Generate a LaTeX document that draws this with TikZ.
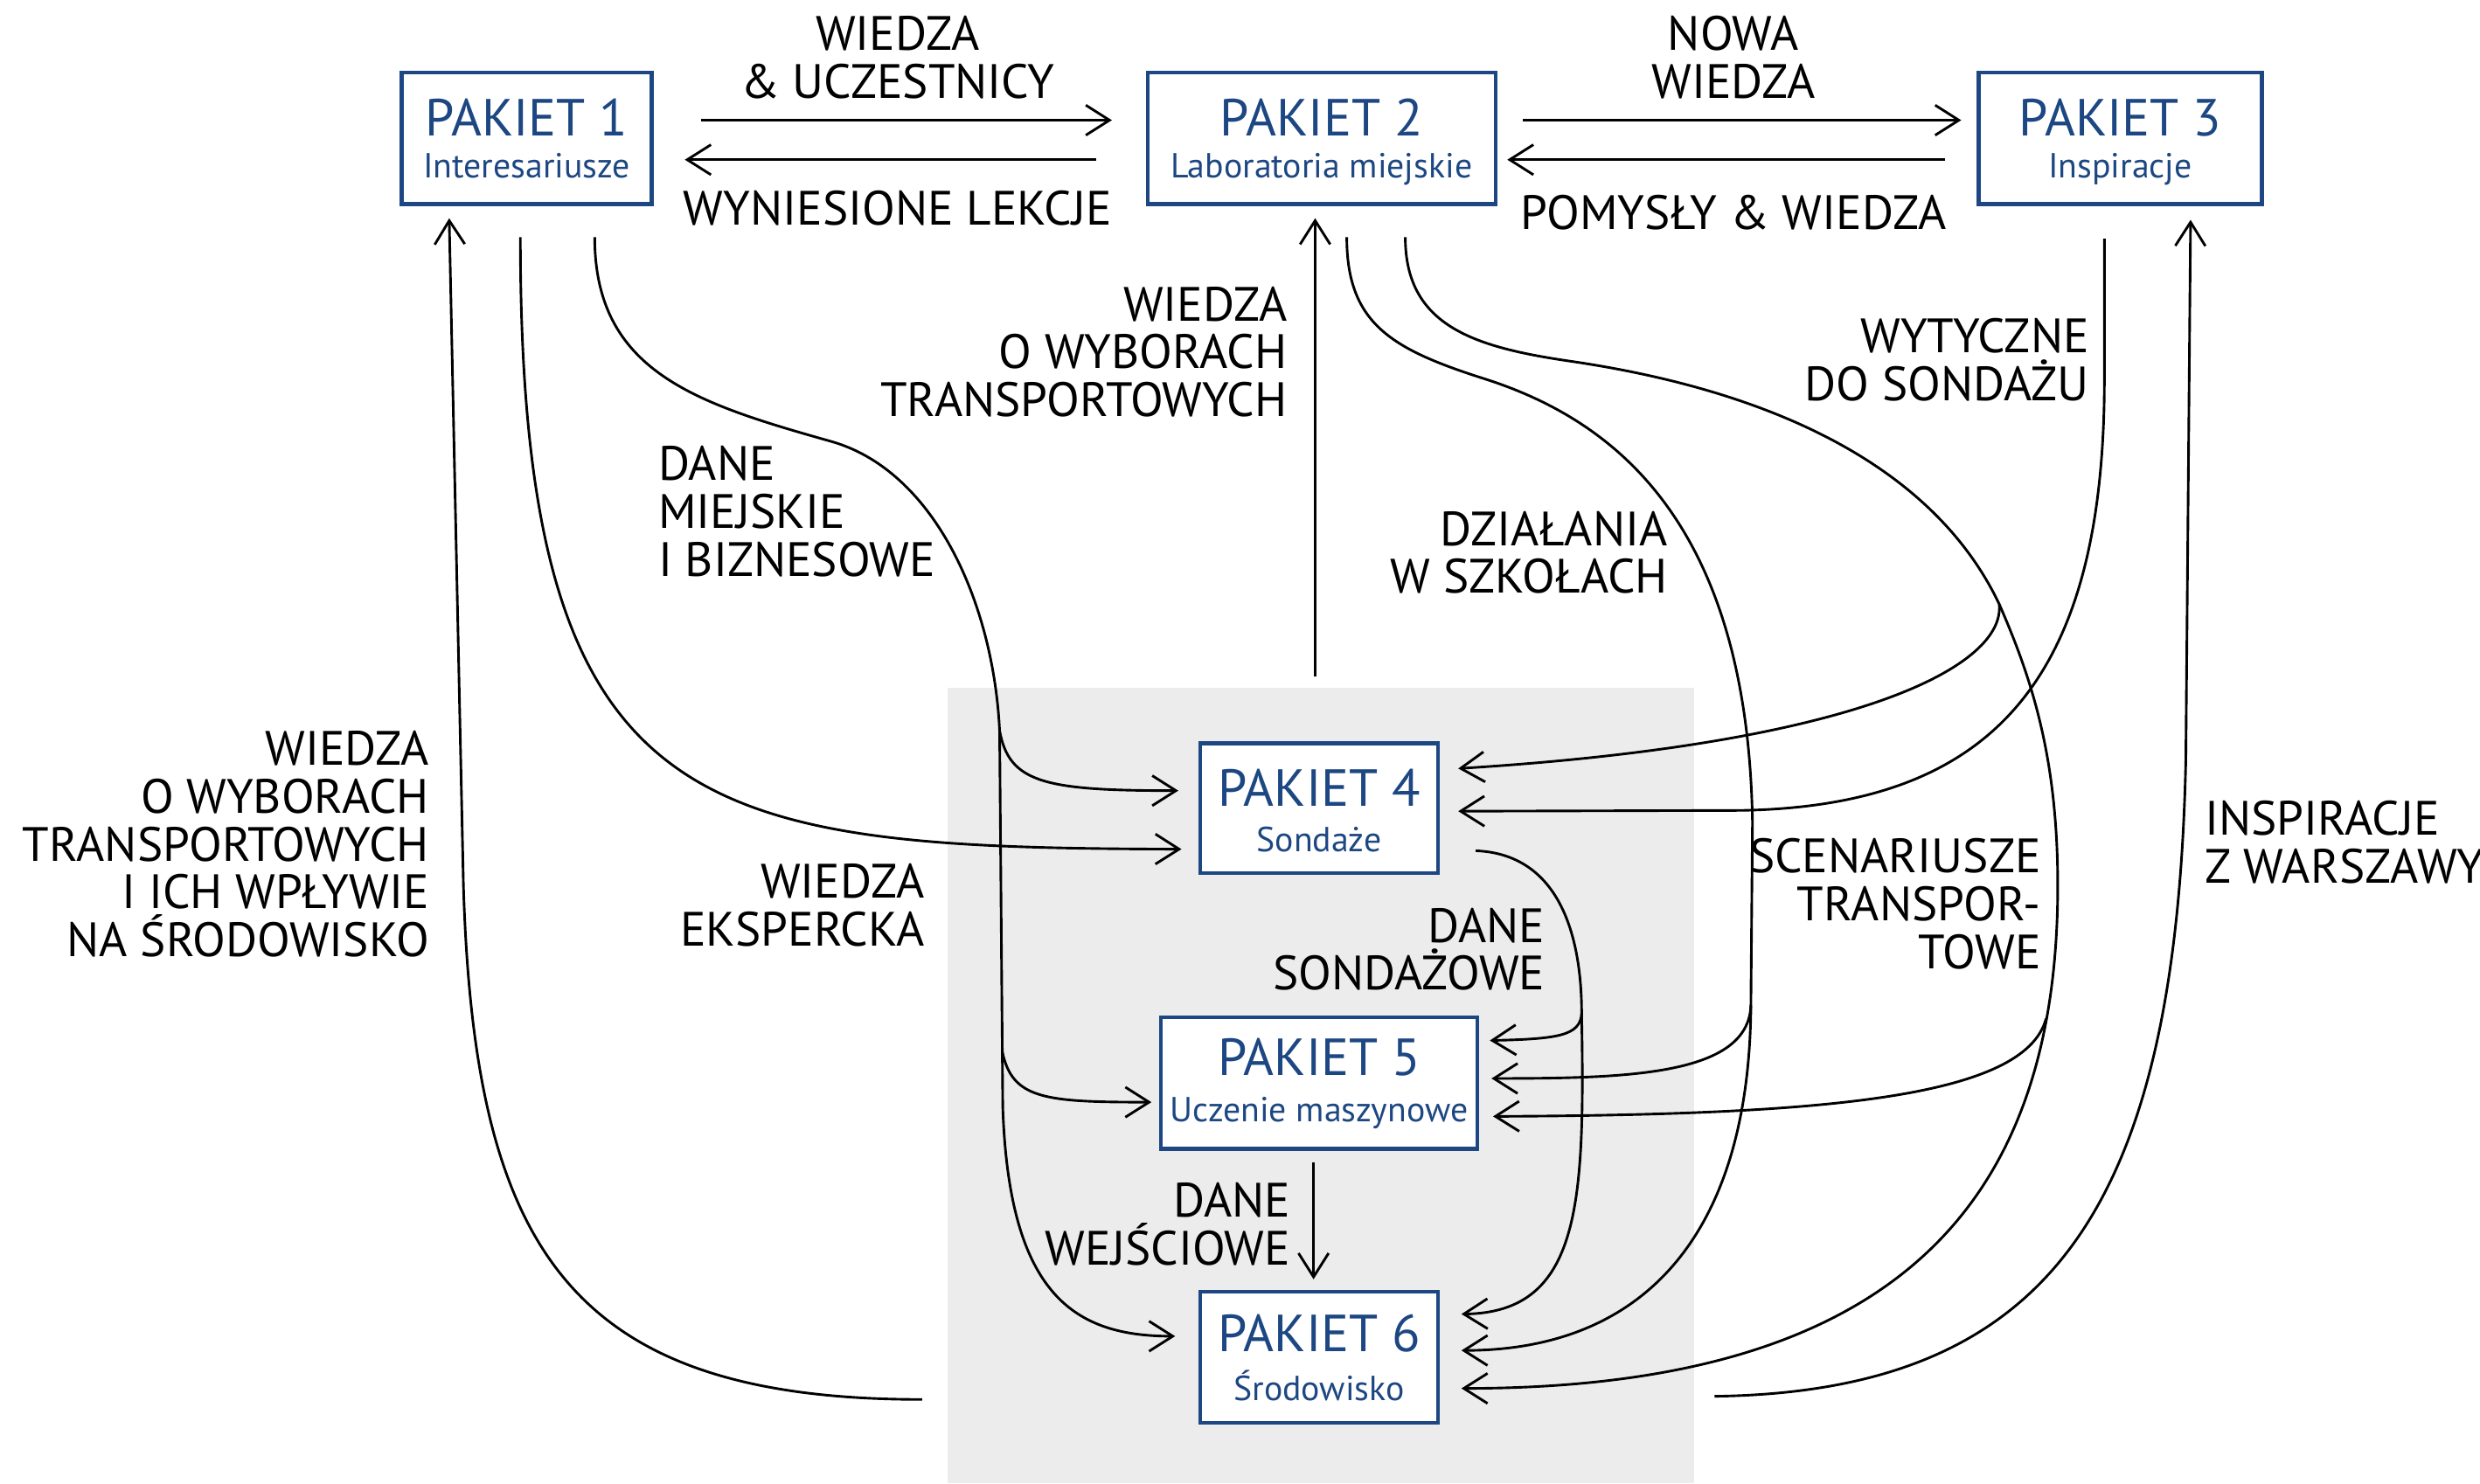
\documentclass[tikz,border=0pt]{standalone}
\usepackage{fontspec}
\setmainfont{PT Sans}
\usetikzlibrary{arrows.meta,calc}
\definecolor{boxblue}{RGB}{29,71,130}
\definecolor{groupgray}{RGB}{236,236,236}
\begin{document}
\begin{tikzpicture}[x=1pt,y=-1pt,
  lbl/.style={font=\fontsize{30.5}{30.3}\selectfont, inner sep=0pt, text=black},
  box/.style={draw=boxblue, line width=2.4pt, fill=white, inner sep=0pt},
  ttl/.style={font=\fontsize{33}{33}\selectfont, text=boxblue, inner sep=0pt},
  subt/.style={font=\fontsize{22}{22}\selectfont, text=boxblue, inner sep=0pt},
  conn/.style={line width=1.6pt, -{Straight Barb[length=15pt,width=19pt]}}
]
\useasboundingbox (0,0) rectangle (1568,938);
\fill[groupgray] (599,435) rectangle (1071,938);

% boxes
\node[box, minimum width=158pt, minimum height=83pt] (P1) at (333,87.5) {};
\node[ttl, anchor=base] (P1t) at (333,85.7) {PAKIET 1};
\node[subt, anchor=base] (P1s) at (333,112.4) {Interesariusze};
\node[box, minimum width=220pt, minimum height=83pt] (P2) at (835.5,87.5) {};
\node[ttl, anchor=base] (P2t) at (835.5,85.7) {PAKIET 2};
\node[subt, anchor=base] (P2s) at (835.5,112.4) {Laboratoria miejskie};
\node[box, minimum width=179pt, minimum height=83pt] (P3) at (1340.5,87.5) {};
\node[ttl, anchor=base] (P3t) at (1340.5,85.7) {PAKIET 3};
\node[subt, anchor=base] (P3s) at (1340.5,112.4) {Inspiracje};
\node[box, minimum width=150pt, minimum height=82pt] (P4) at (834,511) {};
\node[ttl, anchor=base] (P4t) at (834,510) {PAKIET 4};
\node[subt, anchor=base] (P4s) at (834,538.5) {Sondaże};
\node[box, minimum width=200pt, minimum height=83pt] (P5) at (834,685) {};
\node[ttl, anchor=base] (P5t) at (834,680) {PAKIET 5};
\node[subt, anchor=base] (P5s) at (834,709.5) {Uczenie maszynowe};
\node[box, minimum width=150pt, minimum height=83pt] (P6) at (834,858.4) {};
\node[ttl, anchor=base] (P6t) at (834,854.5) {PAKIET 6};
\node[subt, anchor=base] (P6s) at (834,885.5) {Środowisko};

% labels
\node[lbl, anchor=north, align=center] (lA1) at (567.5,10) {WIEDZA\\\& UCZESTNICY};
\node[lbl, anchor=north] (lA2) at (567.5,120.6) {WYNIESIONE LEKCJE};
\node[lbl, anchor=north, align=center] (lA3) at (1096,10) {NOWA\\WIEDZA};
\node[lbl, anchor=north] (lA4) at (1096,123) {POMYSŁY \& WIEDZA};
\node[lbl, anchor=north east, align=right] (lP2) at (814,181) {WIEDZA\\O WYBORACH\\TRANSPORTOWYCH};
\node[lbl, anchor=north west, align=left] (lDM) at (416,282) {DANE\\MIEJSKIE\\I BIZNESOWE};
\node[lbl, anchor=north east, align=right] (lDZ) at (1054.6,323) {DZIAŁANIA\\W SZKOŁACH};
\node[lbl, anchor=north east, align=right] (lWY) at (1321,201) {WYTYCZNE\\DO SONDAŻU};
\node[lbl, anchor=north east, align=right] (lB1) at (271.5,462) {WIEDZA\\O WYBORACH\\TRANSPORTOWYCH\\I ICH WPŁYWIE\\NA ŚRODOWISKO};
\node[lbl, anchor=north east, align=right] (lWE) at (584.7,546) {WIEDZA\\EKSPERCKA};
\node[lbl, anchor=north east, align=right] (lSC) at (1290.6,530) {SCENARIUSZE\\TRANSPOR-\\TOWE};
\node[lbl, anchor=north west, align=left] (lIN) at (1393.7,506) {INSPIRACJE\\Z WARSZAWY};
\node[lbl, anchor=north east, align=right] (lDS) at (977,574) {DANE\\SONDAŻOWE};
\node[lbl, anchor=north east, align=right] (lDW) at (816,748) {DANE\\WEJŚCIOWE};

% connector end points
\coordinate (a1s) at (443,76);   \coordinate (a1e) at (703,76);
\coordinate (a2s) at (693,101);  \coordinate (a2e) at (433,101);
\coordinate (a3s) at (963,76);   \coordinate (a3e) at (1240,76);
\coordinate (a4s) at (1230,101); \coordinate (a4e) at (953,101);
\coordinate (p1o1) at (329,150);
\coordinate (p1o2) at (376,150);
\coordinate (p1in) at (284,138);
\coordinate (p2in) at (831.5,138);
\coordinate (p2o1) at (851.5,150);
\coordinate (p2o2) at (888.5,150);
\coordinate (p3o) at (1330.5,151);
\coordinate (p3in) at (1385,139);
\coordinate (p4wa) at (745,500);
\coordinate (p4wb) at (747,537);
\coordinate (p4ea) at (922,486);
\coordinate (p4eb) at (922,513);
\coordinate (p4o) at (933,538);
\coordinate (p5w) at (728,697);
\coordinate (p5ea) at (942,658);
\coordinate (p5eb) at (943,682);
\coordinate (p5ec) at (944,706);
\coordinate (p5o) at (830.5,735);
\coordinate (p6in) at (830.5,809);
\coordinate (p6w) at (743,845);
\coordinate (p6ea) at (924,831);
\coordinate (p6eb) at (924,854);
\coordinate (p6ec) at (924,878);
\coordinate (gL) at (583,885);
\coordinate (gR) at (1084,883);
\coordinate (gT) at (831.5,428);
% branch / joint points
\coordinate (tk1) at (525,279);
\coordinate (tk2) at (632,462);
\coordinate (tk3) at (633.7,665);
\coordinate (c1a) at (940,240);
\coordinate (c1b) at (1108,520);
\coordinate (c1br) at (1107,636);
\coordinate (c2a) at (990,228);
\coordinate (c2br1) at (1264,382);
\coordinate (c2b) at (1301,560);
\coordinate (c2br2) at (1293.6,644.2);
\coordinate (p4br) at (1000,641);

% top arrows
\draw[conn] (a1s) -- (a1e);
\draw[conn] (a2s) -- (a2e);
\draw[conn] (a3s) -- (a3e);
\draw[conn] (a4s) -- (a4e);

% group -> P1
\draw[conn] (gL) .. controls (360,885) and (300,790) .. (293,560) -- (p1in);
% P1 -> P4
\draw[conn] (p1o1) .. controls (329,520) and (440,536) .. (p4wb);
% P1 trunk -> P4, P5, P6
\draw[conn] (p1o2) .. controls (376,235) and (440,255) .. (tk1)
  .. controls (590,297) and (628,380) .. (tk2) -- (634,700)
  .. controls (638,820) and (680,845) .. (p6w);
\draw[conn] (tk2) .. controls (638,495) and (660,500) .. (p4wa);
\draw[conn] (tk3) .. controls (640,695) and (660,697) .. (p5w);
% group -> P2
\draw[conn] (gT) -- (p2in);
% P2 -> P5, P6 (DZIAŁANIA W SZKOŁACH)
\draw[conn] (p2o1) .. controls (851.5,205) and (880,221) .. (c1a)
  .. controls (1020,266) and (1105,330) .. (c1b) -- (c1br)
  .. controls (1106,780) and (1040,854) .. (p6eb);
\draw[conn] (c1br) .. controls (1105,680) and (1030,682) .. (p5eb);
% P2 -> P4, P5, P6 (SCENARIUSZE)
\draw[conn] (p2o2) .. controls (888.5,205) and (930,219) .. (c2a)
  .. controls (1130,248) and (1225,300) .. (c2br1)
  .. controls (1285,430) and (1301,480) .. (c2b)
  .. controls (1301,760) and (1200,878) .. (p6ec);
\draw[conn] (c2br1) .. controls (1268,420) and (1180,470) .. (p4ea);
\draw[conn] (c2br2) .. controls (1280,695) and (1150,705) .. (p5ec);
% P3 -> P4
\draw[conn] (p3o) -- (1330.5,240) .. controls (1330.5,430) and (1260,510) .. (1100,512.5) -- (p4eb);
% group -> P3
\draw[conn] (gR) .. controls (1300,880) and (1376,760) .. (1382,480) -- (p3in);
% P4 -> P5, P6
\draw[conn] (p4o) .. controls (985,540) and (1000,590) .. (p4br)
  .. controls (1002,760) and (1000,830) .. (p6ea);
\draw[conn] (p4br) .. controls (999,655) and (985,657) .. (p5ea);
% P5 -> P6
\draw[conn] (p5o) -- (p6in);
\end{tikzpicture}
\end{document}
